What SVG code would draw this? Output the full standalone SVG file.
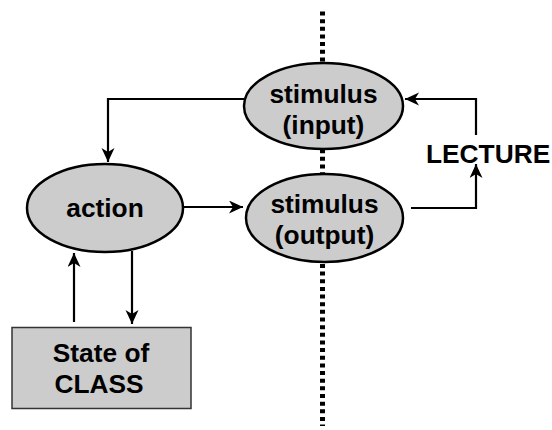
<svg xmlns="http://www.w3.org/2000/svg" width="552" height="430" viewBox="0 0 552 430">
  <style>
    .node { fill: #cccccc; stroke: #000000; stroke-width: 2.5; }
    .box { fill: #cccccc; stroke: #333333; stroke-width: 1.5; }
    .label { font-family: "Liberation Sans", Arial, sans-serif; font-weight: bold; font-size: 26.3px; fill: #000000; text-anchor: middle; }
    .edge { fill: none; stroke: #000000; stroke-width: 2.2; }
    .divider { fill: none; stroke: #000000; stroke-width: 5; stroke-dasharray: 4 3.65; }
  </style>
  <defs>
    <marker id="arrow" markerUnits="userSpaceOnUse" markerWidth="16" markerHeight="14" refX="14" refY="6.5" orient="auto">
      <path d="M0,0 L14,6.5 L0,13 L4,6.5 z" fill="#000000"/>
    </marker>
  </defs>

  <!-- dotted boundary line -->
  <line class="divider" x1="322.5" y1="11.5" x2="322.5" y2="426"/>

  <!-- connectors -->
  <g id="connectors">
    <polyline class="edge" points="244,99 108,99 108,162" marker-end="url(#arrow)"/>
    <line class="edge" x1="184" y1="207" x2="243" y2="207" marker-end="url(#arrow)"/>
    <polyline class="edge" points="411,208 476,208 476,164" marker-end="url(#arrow)"/>
    <polyline class="edge" points="476,135 476,99 405,99" marker-end="url(#arrow)"/>
    <line class="edge" x1="74" y1="322" x2="74" y2="253" marker-end="url(#arrow)"/>
    <line class="edge" x1="132" y1="251" x2="132" y2="324" marker-end="url(#arrow)"/>
  </g>

  <g id="stimulus-input">
    <ellipse class="node" cx="323.5" cy="106" rx="79.5" ry="43"/>
    <text class="label" x="323.5" y="103">stimulus</text>
    <text class="label" x="323.5" y="134">(input)</text>
  </g>

  <g id="stimulus-output">
    <ellipse class="node" cx="324.5" cy="218" rx="78.5" ry="44"/>
    <text class="label" x="324.5" y="213">stimulus</text>
    <text class="label" x="324.5" y="244">(output)</text>
  </g>

  <g id="action">
    <ellipse class="node" cx="105" cy="208" rx="78" ry="44"/>
    <text class="label" x="105" y="217">action</text>
  </g>

  <g id="state-of-class">
    <rect class="box" x="12" y="327.5" width="179" height="81"/>
    <text class="label" x="101" y="361.5">State of</text>
    <text class="label" x="99" y="393">CLASS</text>
  </g>

  <g id="lecture">
    <text class="label" x="426" y="163" style="text-anchor: start">LECTURE</text>
  </g>
</svg>
